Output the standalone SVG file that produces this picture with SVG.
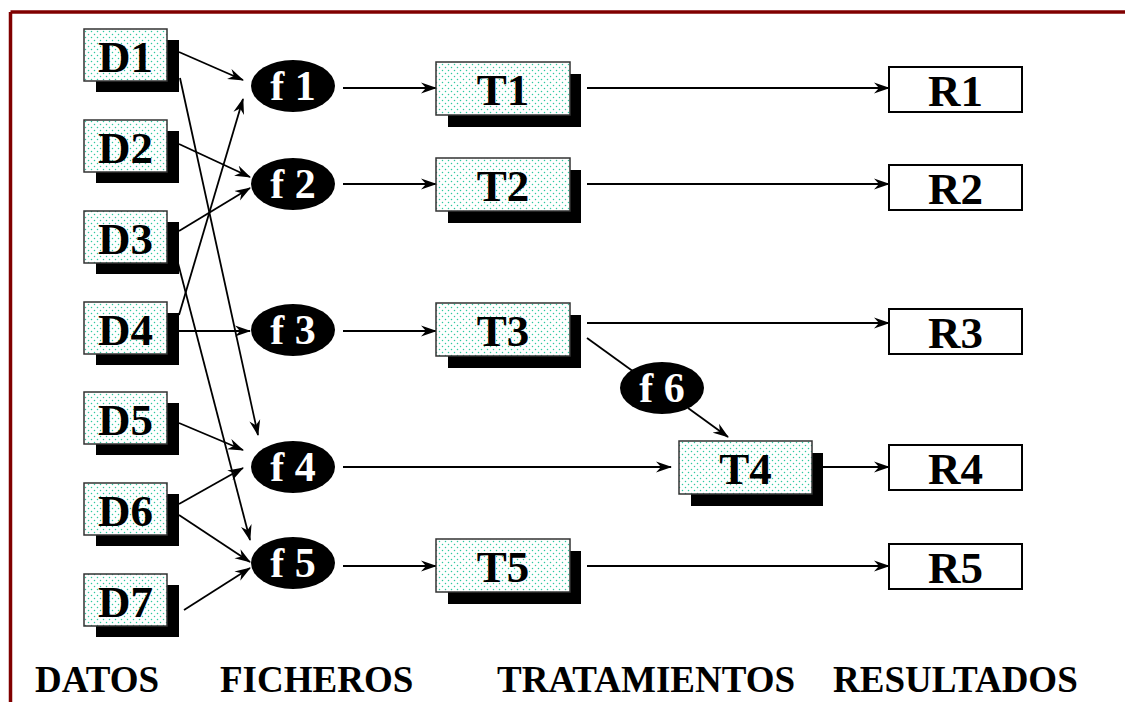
<svg xmlns="http://www.w3.org/2000/svg" width="1125" height="702" viewBox="0 0 1125 702">
<defs>
<pattern id="dots" x="0" y="0" width="6" height="6" patternUnits="userSpaceOnUse">
<rect width="6" height="6" fill="#ffffff"/>
<circle cx="1.5" cy="1.5" r="0.75" fill="#2ec9a0"/>
<circle cx="4.5" cy="4.5" r="0.75" fill="#2ec9a0"/>
</pattern>
<marker id="arr" markerUnits="userSpaceOnUse" markerWidth="16" markerHeight="12" viewBox="0 0 16 12" refX="15" refY="6" orient="auto">
<path d="M0,0.5 L16,6 L0,11.5 L5,6 z" fill="#000"/>
</marker>
<style>
.shadow{fill:#000}
.box{fill:url(#dots);stroke:#333;stroke-width:1.5}
.rbox{fill:#fff;stroke:#000;stroke-width:2}
.ell{fill:#000}
.lbl{font-family:"Liberation Serif","Times New Roman",serif;font-weight:bold;font-size:45px;fill:#000;text-anchor:middle}
.flbl{font-family:"Liberation Serif","Times New Roman",serif;font-weight:bold;font-size:42px;fill:#fff;text-anchor:middle}
.cap{font-family:"Liberation Serif","Times New Roman",serif;font-weight:bold;font-size:37px;fill:#000}
.c{stroke:#000;stroke-width:1.8;fill:none}
.a{marker-end:url(#arr)}
</style>
</defs>
<rect width="1125" height="702" fill="#fff"/>
<g id="frame">
<line x1="10.5" y1="12" x2="1125" y2="12" stroke="#800000" stroke-width="3.5"/>
<line x1="10.5" y1="12" x2="10.5" y2="702" stroke="#800000" stroke-width="3.5"/>
</g>
<g id="connectors">
<line class="c a" x1="179" y1="52" x2="243" y2="80"/>
<line class="c a" x1="180" y1="78" x2="258" y2="435"/>
<line class="c a" x1="179" y1="144" x2="250" y2="177"/>
<line class="c a" x1="179" y1="231" x2="250" y2="188"/>
<line class="c a" x1="178" y1="263" x2="250" y2="540"/>
<line class="c a" x1="179" y1="315" x2="243" y2="99"/>
<line class="c a" x1="179" y1="331" x2="250" y2="331"/>
<line class="c a" x1="179" y1="423" x2="243" y2="450"/>
<line class="c a" x1="179" y1="504" x2="243" y2="468"/>
<line class="c a" x1="179" y1="515" x2="250" y2="562"/>
<line class="c a" x1="184" y1="610" x2="250" y2="568"/>
<line class="c a" x1="343" y1="88" x2="436" y2="88"/>
<line class="c a" x1="343" y1="184" x2="436" y2="184"/>
<line class="c a" x1="343" y1="331" x2="436" y2="331"/>
<line class="c a" x1="343" y1="467" x2="671" y2="467"/>
<line class="c a" x1="343" y1="566" x2="436" y2="566"/>
<line class="c a" x1="587" y1="88" x2="889" y2="88"/>
<line class="c a" x1="587" y1="184" x2="889" y2="184"/>
<line class="c a" x1="587" y1="323" x2="889" y2="323"/>
<line class="c a" x1="823" y1="467" x2="889" y2="467"/>
<line class="c a" x1="587" y1="566" x2="889" y2="566"/>
<line class="c" x1="587" y1="338" x2="634" y2="372"/>
<line class="c a" x1="688" y1="408" x2="728" y2="437"/>
</g>
<g id="D1"><rect class="shadow" x="96" y="40" width="83" height="52"/><rect class="box" x="84" y="29" width="83" height="52"/><text class="lbl" x="125.5" y="72">D1</text></g>
<g id="D2"><rect class="shadow" x="96" y="131" width="83" height="52"/><rect class="box" x="84" y="120" width="83" height="52"/><text class="lbl" x="125.5" y="163">D2</text></g>
<g id="D3"><rect class="shadow" x="96" y="222" width="83" height="52"/><rect class="box" x="84" y="211" width="83" height="52"/><text class="lbl" x="125.5" y="254">D3</text></g>
<g id="D4"><rect class="shadow" x="96" y="313" width="83" height="52"/><rect class="box" x="84" y="302" width="83" height="52"/><text class="lbl" x="125.5" y="345">D4</text></g>
<g id="D5"><rect class="shadow" x="96" y="403" width="83" height="52"/><rect class="box" x="84" y="392" width="83" height="52"/><text class="lbl" x="125.5" y="435">D5</text></g>
<g id="D6"><rect class="shadow" x="96" y="494" width="83" height="52"/><rect class="box" x="84" y="483" width="83" height="52"/><text class="lbl" x="125.5" y="526">D6</text></g>
<g id="D7"><rect class="shadow" x="96" y="585" width="83" height="52"/><rect class="box" x="84" y="574" width="83" height="52"/><text class="lbl" x="125.5" y="617">D7</text></g>
<g id="f1"><ellipse class="ell" cx="293" cy="86" rx="42" ry="26"/><text class="flbl" x="293" y="100">f 1</text></g>
<g id="f2"><ellipse class="ell" cx="293" cy="184" rx="42" ry="26"/><text class="flbl" x="293" y="198">f 2</text></g>
<g id="f3"><ellipse class="ell" cx="293" cy="330" rx="42" ry="26"/><text class="flbl" x="293" y="344">f 3</text></g>
<g id="f4"><ellipse class="ell" cx="293" cy="467" rx="42" ry="26"/><text class="flbl" x="293" y="481">f 4</text></g>
<g id="f5"><ellipse class="ell" cx="293" cy="563" rx="42" ry="26"/><text class="flbl" x="293" y="577">f 5</text></g>
<g id="f6"><ellipse class="ell" cx="662" cy="388" rx="42" ry="26"/><text class="flbl" x="662" y="402">f 6</text></g>
<g id="T1"><rect class="shadow" x="448" y="74" width="133" height="53"/><rect class="box" x="436" y="62" width="134" height="53"/><text class="lbl" x="503" y="105">T1</text></g>
<g id="T2"><rect class="shadow" x="448" y="170" width="133" height="53"/><rect class="box" x="436" y="158" width="134" height="53"/><text class="lbl" x="503" y="201">T2</text></g>
<g id="T3"><rect class="shadow" x="448" y="315" width="133" height="53"/><rect class="box" x="436" y="303" width="134" height="53"/><text class="lbl" x="503" y="346">T3</text></g>
<g id="T4"><rect class="shadow" x="691" y="453" width="132" height="53"/><rect class="box" x="679" y="441" width="133" height="53"/><text class="lbl" x="745.5" y="484">T4</text></g>
<g id="T5"><rect class="shadow" x="448" y="551" width="133" height="53"/><rect class="box" x="436" y="539" width="134" height="53"/><text class="lbl" x="503" y="582">T5</text></g>
<g id="R1"><rect class="rbox" x="889" y="67" width="133" height="45"/><text class="lbl" x="955.5" y="106">R1</text></g>
<g id="R2"><rect class="rbox" x="889" y="165" width="133" height="45"/><text class="lbl" x="955.5" y="204">R2</text></g>
<g id="R3"><rect class="rbox" x="889" y="309" width="133" height="45"/><text class="lbl" x="955.5" y="348">R3</text></g>
<g id="R4"><rect class="rbox" x="889" y="445" width="133" height="45"/><text class="lbl" x="955.5" y="484">R4</text></g>
<g id="R5"><rect class="rbox" x="889" y="544" width="133" height="45"/><text class="lbl" x="955.5" y="583">R5</text></g>
<g id="captions">
<text class="cap" x="35" y="692">DATOS</text>
<text class="cap" x="220" y="692">FICHEROS</text>
<text class="cap" x="497" y="692">TRATAMIENTOS</text>
<text class="cap" x="833" y="692">RESULTADOS</text>
</g>
</svg>
